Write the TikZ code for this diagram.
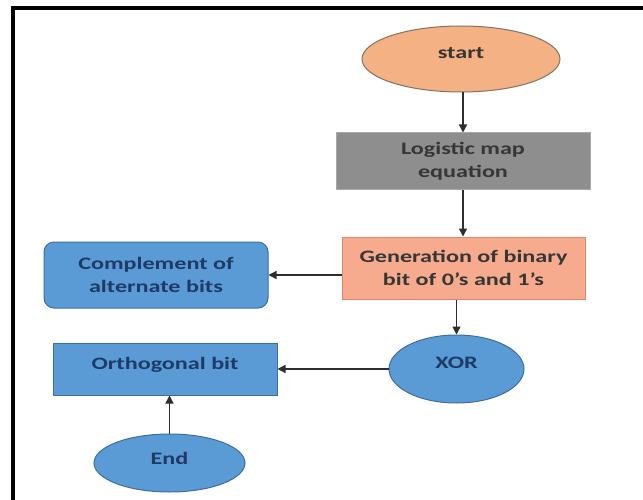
\documentclass[tikz,border=0pt]{standalone}
\usepackage{fontspec}
\setmainfont{Carlito}[FakeStretch=1.38]
\usetikzlibrary{shapes.geometric,arrows.meta}
\definecolor{startfill}{HTML}{F4B183}
\definecolor{startdraw}{HTML}{857262}
\definecolor{grayfill}{HTML}{8E8E8E}
\definecolor{graydraw}{HTML}{A8A8A8}
\definecolor{genfill}{HTML}{F7AB8E}
\definecolor{gendraw}{HTML}{E3866A}
\definecolor{bluefill}{HTML}{5B9BD5}
\definecolor{bluedraw}{HTML}{3C6FA0}
\definecolor{darktxt}{HTML}{363636}
\definecolor{bluetxt}{HTML}{1E3A66}
\definecolor{arrowcol}{HTML}{2E2E2E}
\begin{document}
\begin{tikzpicture}[x=1pt,y=-1pt,
  basetxt/.style={font=\fontsize{17.5}{23}\selectfont\bfseries, align=center, inner sep=0pt},
  startnode/.style={basetxt, ellipse, fill=startfill, draw=startdraw, line width=1pt, text=darktxt},
  graybox/.style={basetxt, rectangle, fill=grayfill, draw=graydraw, line width=1pt, text=darktxt},
  genbox/.style={basetxt, rectangle, fill=genfill, draw=gendraw, line width=1pt, text=darktxt},
  bluebox/.style={basetxt, rectangle, fill=bluefill, draw=bluedraw, line width=1pt, text=bluetxt},
  blueell/.style={basetxt, ellipse, fill=bluefill, draw=bluedraw, line width=1pt, text=bluetxt},
  arr/.style={draw=arrowcol, line width=1.3pt, -{Triangle[length=8pt,width=8pt]}}
]
\useasboundingbox (0,0) rectangle (643,500);
\fill[white] (0,0) rectangle (643,500);
% frame
\fill[black] (11,6) rectangle (643,10);
\fill[black] (11,6) rectangle (15,500);

% nodes
\node[startnode, minimum width=198pt, minimum height=66pt] (start) at (461,59) {\raisebox{12pt}{start}};
\node[graybox, minimum width=254pt, minimum height=57pt] (logistic) at (463,161.5) {Logistic map\\equation};
\node[genbox, minimum width=243pt, minimum height=62pt] (gen) at (463.5,268) {Generation of binary\\bit of 0's and 1's};
\node[bluebox, rounded corners=10pt, minimum width=224pt, minimum height=66pt] (comp) at (156,275) {Complement of\\alternate bits};
\node[blueell, minimum width=135pt, minimum height=68pt] (xor) at (456.5,369) {\raisebox{12pt}{XOR}};
\node[bluebox, minimum width=224pt, minimum height=52pt] (orth) at (165,369) {\raisebox{12pt}{Orthogonal bit}};
\node[blueell, minimum width=151pt, minimum height=58pt] (end) at (169.5,463) {\raisebox{10pt}{End}};

% connectors
\draw[arr] (logistic.north |- start.south) -- (logistic.north);
\draw[arr] (logistic.south) -- (gen.north -| logistic.south);
\draw[arr] (gen.west |- comp.east) -- (comp.east);
\draw[arr] (xor.north |- gen.south) -- (xor.north);
\draw[arr] (xor.west) -- (orth.east);
\draw[arr] (end.north) -- (end.north |- orth.south);
\end{tikzpicture}
\end{document}
